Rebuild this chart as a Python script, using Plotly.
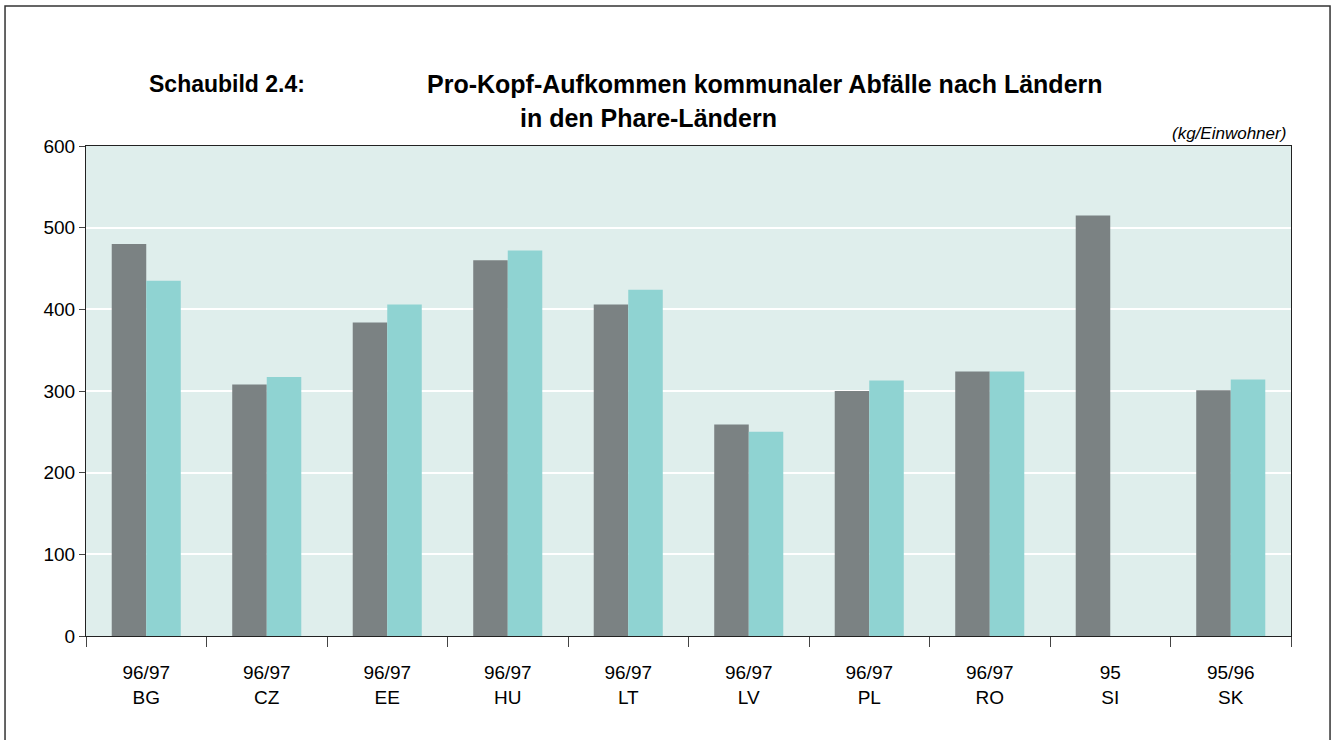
import plotly.graph_objects as go

# Data
countries = ["BG", "CZ", "EE", "HU", "LT", "LV", "PL", "RO", "SI", "SK"]
years = ["96/97", "96/97", "96/97", "96/97", "96/97", "96/97", "96/97", "96/97", "95", "95/96"]
values_dark = [480, 308, 384, 460, 406, 259, 300, 324, 515, 301]
values_light = [435, 317, 406, 472, 424, 250, 313, 324, None, 314]

labels = [f"{y}<br>{c}" for y, c in zip(years, countries)]

fig = go.Figure()
fig.add_trace(go.Bar(x=labels, y=values_dark, name="Reihe 1",
                     marker=dict(color="#7B8283", line=dict(width=0))))
fig.add_trace(go.Bar(x=labels, y=values_light, name="Reihe 2",
                     marker=dict(color="#8FD3D2", line=dict(width=0))))

font = "Liberation Sans, Arial, sans-serif"

fig.update_layout(
    width=1335, height=740,
    margin=dict(l=86, r=44, t=146, b=104),
    paper_bgcolor="white",
    plot_bgcolor="#DFEEEC",
    barmode="group", bargap=0.427, bargroupgap=0,
    showlegend=False,
    font=dict(family=font, size=19, color="black"),
)

fig.update_xaxes(
    showline=True, linecolor="#222", linewidth=1, mirror=True,
    ticks="outside", tickson="boundaries", ticklen=10, tickcolor="#444",
    showgrid=False, tickfont=dict(size=19), ticklabelstandoff=19,
)
fig.update_yaxes(
    range=[0, 600], dtick=100,
    showline=True, linecolor="#222", linewidth=1, mirror=True,
    ticks="outside", ticklen=6, tickcolor="#444",
    gridcolor="white", gridwidth=2, zeroline=False,
    ticklabelstandoff=0, tickfont=dict(size=19),
)

# title block
fig.add_annotation(text="<b>Schaubild 2.4:</b>", xref="paper", yref="paper",
                   x=0.0506, y=1.1265, xanchor="left", yanchor="middle",
                   showarrow=False, font=dict(size=23))
fig.add_annotation(text="<b>Pro-Kopf-Aufkommen kommunaler Abfälle nach Ländern</b>",
                   xref="paper", yref="paper", x=0.2813, y=1.1265,
                   xanchor="left", yanchor="middle", showarrow=False, font=dict(size=25))
fig.add_annotation(text="<b>in den Phare-Ländern</b>", xref="paper", yref="paper",
                   x=0.4672, y=1.0571, xanchor="center", yanchor="middle",
                   showarrow=False, font=dict(size=25))
fig.add_annotation(text="<i>(kg/Einwohner)</i>", xref="paper", yref="paper",
                   x=0.9975, y=1.0265, xanchor="right", yanchor="middle",
                   showarrow=False, font=dict(size=17))

# outer frame (left, top, right)
fig.add_shape(type="path", xref="paper", yref="paper",
              path="M -0.0672,-0.25 L -0.0672,1.2857 L 1.0324,1.2857 L 1.0324,-0.25",
              line=dict(color="#333", width=1.5))

fig.write_html("out.html", config={"displayModeBar": False},
               post_script="document.body.style.margin = '0';")
